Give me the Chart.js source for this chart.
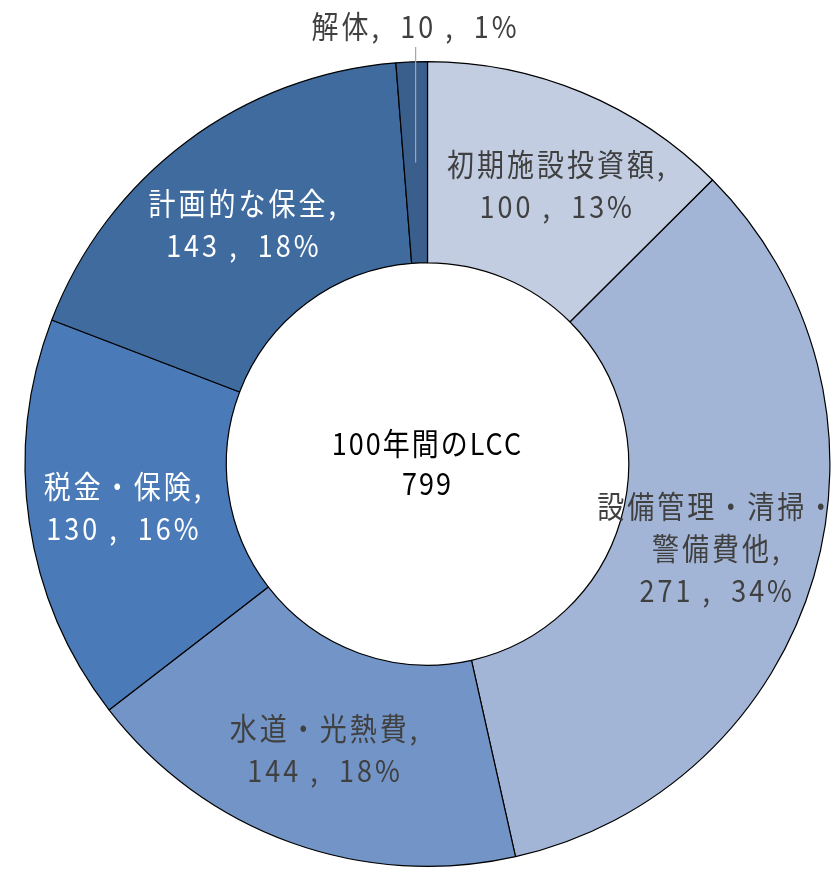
<!DOCTYPE html>
<html>
<head>
<meta charset="utf-8">
<script src="https://cdn.jsdelivr.net/npm/chart.js@4/dist/chart.umd.min.js"></script>
<style>
  html, body { margin: 0; padding: 0; background: #fff; }
  #wrap { width: 831px; height: 871px; position: relative; }
</style>
</head>
<body>
<div id="wrap"><canvas id="lccChart"></canvas></div>
<script>
// Données
const categories = ["初期施設投資額", "設備管理・清掃・警備費他", "水道・光熱費", "税金・保険", "計画的な保全", "解体"];
const values = [100, 271, 144, 130, 143, 10];
const percents = ["13%", "34%", "18%", "16%", "18%", "1%"];
const centerLines = ["100年間のLCC", "799"];

// Style
const sliceColors = ["#c2cde2", "#a3b5d6", "#7394c7", "#4a7bb8", "#3f6b9f", "#3a5f8d"];
const textColors = ["#404040", "#404040", "#404040", "#ffffff", "#ffffff", "#404040"];
// lignes des étiquettes (retours à la ligne comme dans l'original)
const labelLines = [
    [categories[0] + ",", values[0] + " ,  " + percents[0]],
    ["設備管理・清掃・", "警備費他,", values[1] + " ,  " + percents[1]],
    [categories[2] + ",", values[2] + " ,  " + percents[2]],
    [categories[3] + ",", values[3] + " ,  " + percents[3]],
    [categories[4] + ",", values[4] + " ,  " + percents[4]],
    [categories[5] + ",  " + values[5] + " ,  " + percents[5]]
];
const labelShift = [[14, 0], [0, 0], [0, 2], [-5, 0], [-3, 2], [0, 0]];

const FONT = '"Noto Sans CJK JP", "Noto Sans", sans-serif';
const LINE_H = 42;
const STRETCH_Y = 1.12; // police d'origine plus haute

function tallText(ctx, txt, x, y) {
    ctx.save();
    ctx.translate(x, y);
    ctx.scale(1, STRETCH_Y);
    ctx.fillText(txt, 0, 0);
    ctx.restore();
}

const labelPlugin = {
    id: "sliceLabels",
    afterDraw(chart) {
        const ctx = chart.ctx;
        const meta = chart.getDatasetMeta(0);
        ctx.save();
        ctx.textAlign = "center";
        ctx.textBaseline = "middle";
        ctx.font = "27px " + FONT;
        ctx.letterSpacing = "3px";

        meta.data.forEach((arc, i) => {
            const p = arc.getCenterPoint();
            let x = p.x + labelShift[i][0];
            let y = p.y + labelShift[i][1];
            const lines = labelLines[i];

            if (i === 5) {
                // petite part : étiquette à l'extérieur avec ligne de rappel
                const top = chart.chartArea.top - 14;
                ctx.strokeStyle = "#a6a6a6";
                ctx.lineWidth = 1.2;
                ctx.beginPath();
                ctx.moveTo(p.x, p.y);
                ctx.lineTo(p.x, top);
                ctx.stroke();
                y = top - 20;
            }

            ctx.fillStyle = textColors[i];
            const startY = y - (lines.length - 1) * LINE_H / 2;
            lines.forEach((ln, k) => {
                tallText(ctx, ln, x, startY + k * LINE_H);
            });
        });

        // texte central
        const cx = (chart.chartArea.left + chart.chartArea.right) / 2;
        const cy = (chart.chartArea.top + chart.chartArea.bottom) / 2;
        ctx.fillStyle = "#000000";
        ctx.letterSpacing = "2px";
        ctx.font = "27px " + FONT;
        tallText(ctx, centerLines[0], cx, cy - 20);
        tallText(ctx, centerLines[1], cx, cy + 20);
        ctx.restore();
    }
};

const ctx = document.getElementById("lccChart").getContext("2d");
new Chart(ctx, {
    type: "doughnut",
    data: {
        labels: categories,
        datasets: [{
            data: values,
            backgroundColor: sliceColors,
            borderColor: "#000000",
            borderWidth: 1.2
        }]
    },
    options: {
        responsive: true,
        maintainAspectRatio: false,
        animation: false,
        cutout: "50%",
        layout: { padding: { left: 24, right: 0, top: 61, bottom: 4 } },
        plugins: {
            legend: { display: false },
            tooltip: { enabled: false }
        }
    },
    plugins: [labelPlugin]
});
</script>
</body>
</html>
